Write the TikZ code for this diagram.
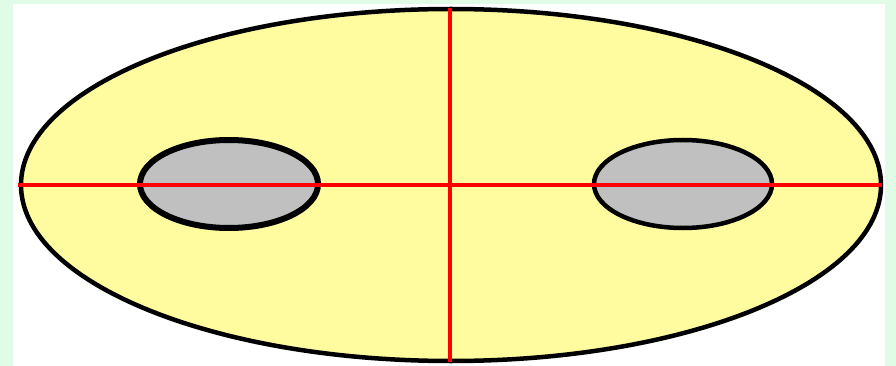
\documentclass[tikz,border=0pt]{standalone}
\definecolor{bggreen}{HTML}{E0FCE6}
\definecolor{paleyellow}{HTML}{FFFCA0}
\definecolor{holegray}{HTML}{C0C0C0}
\tikzset{
  outline/.style={draw=black, line width=4.5pt},
  hole/.style={draw=black, line width=4.5pt, fill=holegray},
  axis/.style={draw=red, line width=4pt},
}
\begin{document}
\begin{tikzpicture}[x=1pt,y=-1pt]
  \fill[bggreen] (0,0) rectangle (896,366);
  \fill[white] (13,4) rectangle (885,366);
  \useasboundingbox (0,0) rectangle (896,366);
  \filldraw[outline, fill=paleyellow] (451,185) ellipse [x radius=430, y radius=176];
  \path[hole, line width=6pt] (229,184) ellipse [x radius=89, y radius=44];
  \path[hole] (683,184) ellipse [x radius=89, y radius=44];
  \coordinate (L) at (18,185);
  \coordinate (R) at (882,185);
  \coordinate (T) at (449.5,8);
  \coordinate (B) at (449.5,362);
  \draw[axis] (L) -- (R);
  \draw[axis] (T) -- (B);
\end{tikzpicture}
\end{document}
